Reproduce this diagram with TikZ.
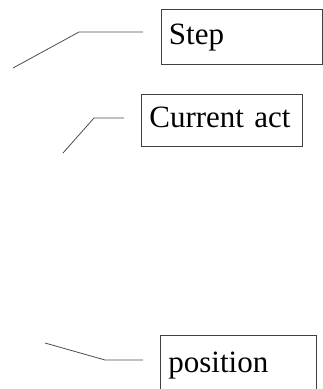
\documentclass[tikz,border=0pt]{standalone}
\usepackage{fontspec}
\setmainfont{Liberation Serif}
\begin{document}
\begin{tikzpicture}[x=1pt,y=-1pt,
  labelbox/.style={draw=black!75, line width=0.8pt, anchor=north west, inner xsep=8pt, inner ysep=0pt,
    font=\fontsize{31}{36}\selectfont, align=left, text height=21pt, text depth=6pt},
  leader/.style={draw=black!70, line width=0.8pt}]
\useasboundingbox (0,0) rectangle (323,389);
\node[labelbox, minimum width=161pt, minimum height=55pt, text width=145pt] (step) at (160.5,9) {Step};
\node[labelbox, minimum width=161pt, minimum height=52pt, text width=145pt] (cur) at (141,94) {Current act};
\node[labelbox, minimum width=156pt, minimum height=60pt, text width=140pt] (pos) at (160,335) {position};
\coordinate (s1) at (143,32); \coordinate (s2) at (79,32); \coordinate (s3) at (13,68);
\coordinate (c1) at (124,118); \coordinate (c2) at (94,118); \coordinate (c3) at (63,153);
\coordinate (p1) at (143,360); \coordinate (p2) at (105,360); \coordinate (p3) at (45,343);
\draw[leader] (s1) -- (s2) -- (s3);
\draw[leader] (c1) -- (c2) -- (c3);
\draw[leader] (p1) -- (p2) -- (p3);
\end{tikzpicture}
\end{document}
